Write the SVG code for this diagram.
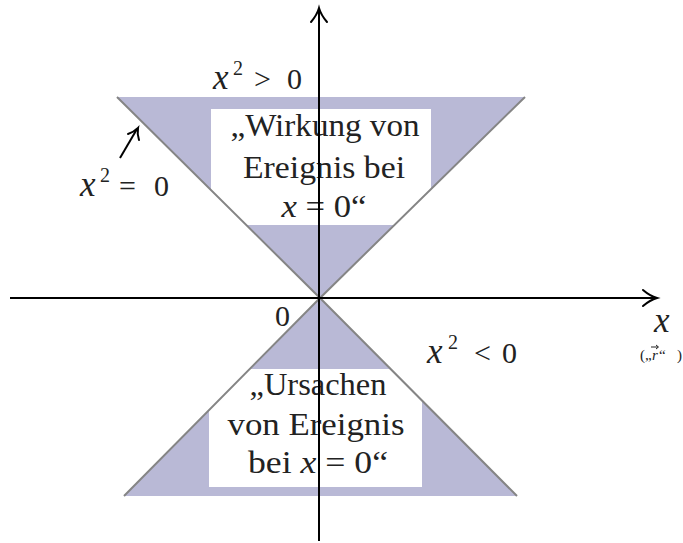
<svg xmlns="http://www.w3.org/2000/svg" width="683" height="543" viewBox="0 0 683 543">
<style>
.cone{fill:#b9b9d6;stroke:none}
.edge{stroke:#858585;stroke-width:2;fill:none}
.box{fill:#ffffff}
.t{font-family:"Liberation Serif","DejaVu Serif",serif;font-size:32px;fill:#222;text-anchor:middle}
.m{font-family:"Liberation Serif","DejaVu Serif",serif;font-size:30px;fill:#222}
.s{font-size:20px}
.i{font-style:italic}
.mx{font-style:italic;font-size:35px}
.ax{stroke:#000;stroke-width:2;fill:none}
</style>
<g id="cone-top">
<polygon class="cone" points="117,97 525,97 320,298"/>
</g>
<g id="cone-bottom">
<polygon class="cone" points="124,496 517,496 320,298"/>
</g>
<g id="box-future">
<rect class="box" x="211" y="109" width="220" height="116"/>
<text class="t" x="325" y="136" textLength="189" lengthAdjust="spacingAndGlyphs">„Wirkung von</text>
<text class="t" x="324" y="178" textLength="162" lengthAdjust="spacingAndGlyphs">Ereignis bei</text>
<text class="t" x="324" y="217" textLength="85" lengthAdjust="spacingAndGlyphs"><tspan class="i">x</tspan> = 0“</text>
</g>
<g id="box-past">
<rect class="box" x="209" y="369" width="213" height="118"/>
<text class="t" x="318" y="395" textLength="137" lengthAdjust="spacingAndGlyphs">„Ursachen</text>
<text class="t" x="316" y="435" textLength="177" lengthAdjust="spacingAndGlyphs">von Ereignis</text>
<text class="t" x="318" y="473" textLength="140" lengthAdjust="spacingAndGlyphs">bei <tspan class="i">x</tspan> = 0“</text>
</g>
<g id="cone-edges">
<path class="edge" d="M117,97 L320,298 L525,97"/>
<path class="edge" d="M124,496 L320,298 L517,496"/>
</g>
<g id="connectors">
<path class="ax" d="M10,298 L656,298"/>
<path class="ax" d="M643,290 Q650,296 657,298 Q650,300 643,306" stroke-linecap="round"/>
<path class="ax" d="M319,541 L319,9"/>
<path class="ax" d="M311,22 Q317,15 319,8 Q321,15 327,22" stroke-linecap="round"/>
<path class="ax" d="M120,158 L137,129" stroke-width="2.5"/>
<path class="ax" d="M128,134 Q134,132 138,128 Q137,134 139,140" stroke-width="2.2" stroke-linecap="round"/>
</g>
<g id="labels">
<text class="m"><tspan class="mx" x="213" y="89">x</tspan><tspan class="s" x="233" y="75">2</tspan><tspan x="254" y="89">&gt;</tspan><tspan x="287" y="89">0</tspan></text>
<text class="m"><tspan class="mx" x="80" y="196">x</tspan><tspan class="s" x="100" y="182">2</tspan><tspan x="119" y="196">=</tspan><tspan x="154" y="196">0</tspan></text>
<text class="m" x="275" y="326">0</text>
<text class="m"><tspan class="mx" x="427" y="363">x</tspan><tspan class="s" x="448" y="349">2</tspan><tspan x="474" y="363">&lt;</tspan><tspan x="502" y="363">0</tspan></text>
<text class="m mx" x="654" y="332">x</text>
<text font-family="Liberation Serif, serif" font-size="15" fill="#222" y="360"><tspan x="640">(</tspan><tspan x="645">„</tspan><tspan x="652" font-style="italic">r</tspan><tspan x="659">“</tspan><tspan x="677">)</tspan></text>
<path d="M651,347 L658,347 M656,345 L658.5,347 L656,349" stroke="#222" stroke-width="1" fill="none"/>
</g>
</svg>
